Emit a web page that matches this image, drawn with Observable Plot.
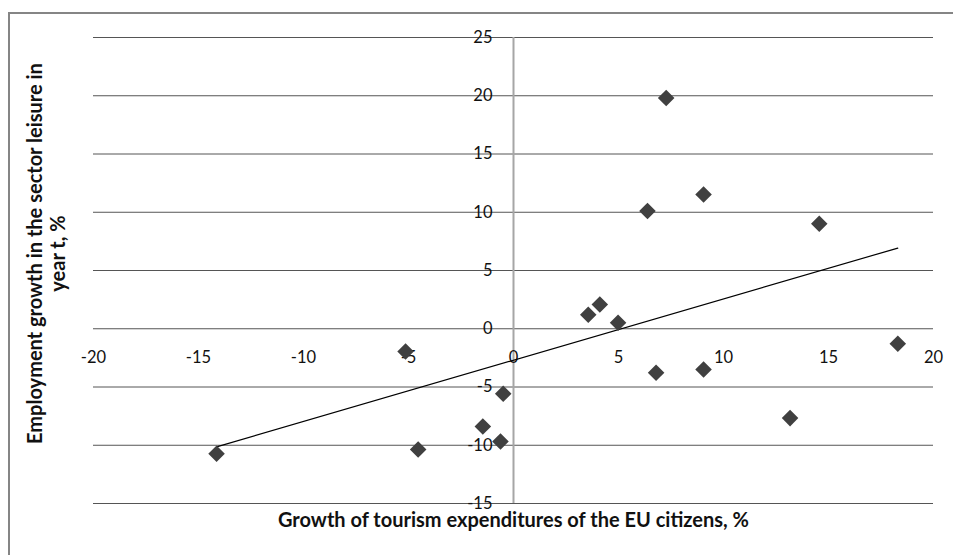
<!DOCTYPE html>
<html><head><meta charset="utf-8">
<script src="https://cdn.jsdelivr.net/npm/d3@7"></script>
<script src="https://cdn.jsdelivr.net/npm/@observablehq/plot@0.6"></script>
<style>
html,body{margin:0;padding:0;background:#fff;overflow:hidden;width:953px;height:555px;}
#frame{position:absolute;left:8px;top:12px;width:1000px;height:700px;border:2px solid #858585;box-sizing:border-box;}
#chart{position:absolute;left:0;top:0;}
</style></head><body><div id="frame"></div><div id="chart"></div>
<script>
// Growth of tourism expenditures of the EU citizens, %
const xGrowth = [-14.14, -5.14, -4.54, -1.46, -0.62, -0.49, 3.56, 4.11, 4.98, 6.38, 7.27, 9.05, 14.56, 6.79, 9.05, 13.17, 18.3];
// Employment growth in the sector leisure in year t, %
const yGrowth = [-10.73, -1.95, -10.36, -8.39, -9.67, -5.58, 1.2, 2.09, 0.51, 10.1, 19.8, 11.53, 9.01, -3.78, -3.49, -7.67, -1.29];
const xTicks = [-20, -15, -10, -5, 0, 5, 10, 15, 20];
const yTicks = [-15, -10, -5, 0, 5, 10, 15, 20, 25];
const xTitle = "Growth of tourism expenditures of the EU citizens, %";
const yTitle = "Employment growth in the sector leisure in\nyear t, %";

const points = xGrowth.map((x, i) => ({x, y: yGrowth[i]}));

const chart = Plot.plot({
  width: 953, height: 555,
  marginLeft: 93, marginRight: 20, marginTop: 37, marginBottom: 52,
  x: {domain: [-20, 20], axis: null},
  y: {domain: [-15, 25], axis: null},
  style: {fontFamily: "Lato, sans-serif", background: "transparent", color: "#111"},
  marks: [
    Plot.ruleY(yTicks, {stroke: "#555", strokeWidth: 1}),
    Plot.ruleX([0], {stroke: "#a6a6a6", strokeWidth: 2}),
    Plot.text(yTicks, {x: 0, y: d => d, text: d => String(d), textAnchor: "end", dx: -21, fontSize: 16.5, fill: "#111"}),
    Plot.text(xTicks, {x: d => d, y: 0, text: d => String(d), dy: 29, fontSize: 16.5, fill: "#111"}),
    Plot.linearRegressionY(points, {x: "x", y: "y", ci: 0, stroke: "#000", strokeWidth: 1.2}),
    Plot.dot(points, {x: "x", y: "y", symbol: "square", rotate: 45, r: 6.6, fill: "#404040", stroke: "none"}),
    Plot.text([xTitle], {frameAnchor: "bottom", dy: 23, fontWeight: "bold", fontSize: 20, fill: "#111"}),
    Plot.text([yTitle], {frameAnchor: "left", textAnchor: "middle", rotate: -90, dx: -47, dy: -17, fontWeight: "bold", fontSize: 20, lineHeight: 1.15, fill: "#111"})
  ]
});
document.getElementById("chart").appendChild(chart);
</script></body></html>
